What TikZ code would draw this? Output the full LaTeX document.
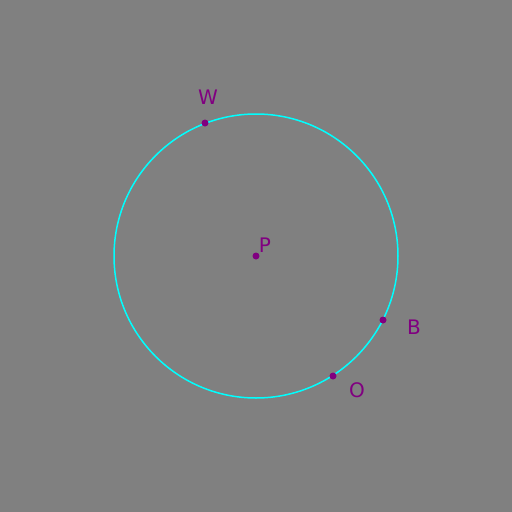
\documentclass[tikz,border=0pt]{standalone}
\usepackage{fontspec}
\setmainfont{DejaVu Sans}
\definecolor{bg}{HTML}{808080}
\definecolor{pt}{HTML}{800080}
\definecolor{cy}{HTML}{00FFFF}
\begin{document}
\begin{tikzpicture}[x=1pt,y=-1pt,
  dot/.style={circle,fill=pt,inner sep=0pt,minimum size=7pt},
  lbl/.style={text=pt,font=\fontsize{20}{22}\selectfont,inner sep=0pt}]
\fill[bg] (0,0) rectangle (512,512);
\useasboundingbox (0,0) rectangle (512,512);
\coordinate (c) at (256,256);
\draw[cy,line width=1.5pt] (c) circle[radius=142];
\node[dot] (W) at (205,123) {};
\node[dot] (P) at (256,256) {};
\node[dot] (B) at (383,320) {};
\node[dot] (O) at (333,376) {};
\node[lbl] (lW) at (208,97) {W};
\node[lbl] (lP) at (265,245) {P};
\node[lbl] (lB) at (414,327) {B};
\node[lbl] (lO) at (357,390) {O};
\end{tikzpicture}
\end{document}
